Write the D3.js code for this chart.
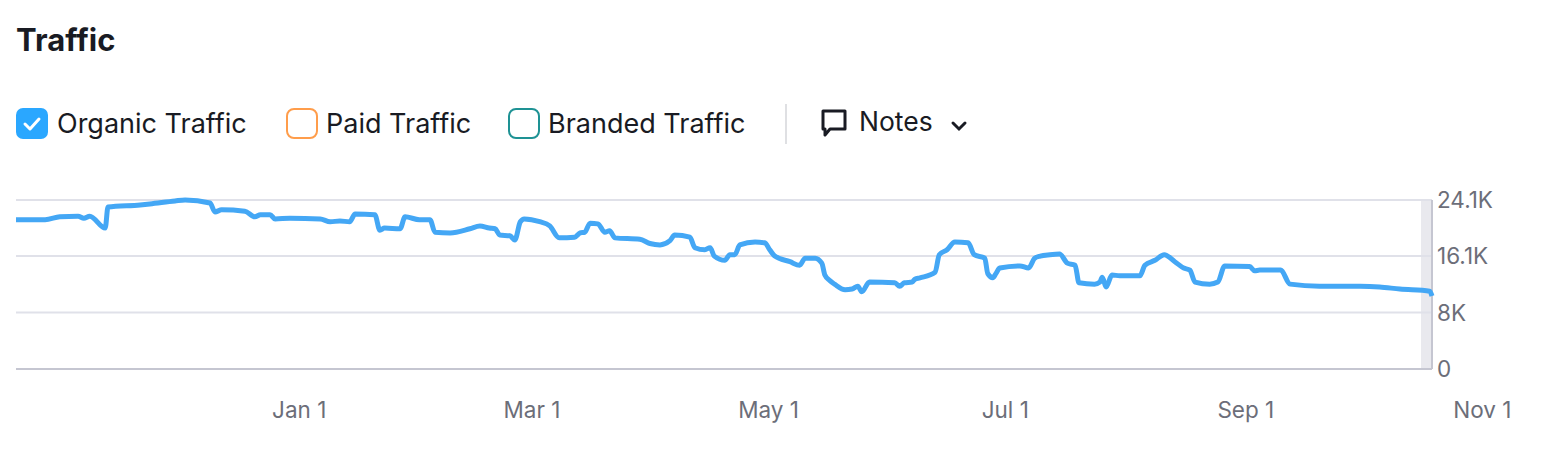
<!DOCTYPE html>
<html><head><meta charset="utf-8">
<script src="https://cdn.jsdelivr.net/npm/d3@7"></script>
<style>body{margin:0;background:#fff;font-family:Inter,"Open Sans",sans-serif;}</style>
</head><body><svg id="c" width="1562" height="468"></svg>
<script>
const startDate = "2023-10-20";
const dayOffsets = [0,7.5,11.3,16,17.5,19,23,23.7,32,34.5,41,43.6,50,51.3,53,59,61.6,63,65.5,66.8,70.6,78.4,81,83.5,86,87.4,92.5,93.8,95,99,100.3,104,106.7,108,111.9,117,119.6,122,123.5,124.7,127.3,128.6,130,131,135,137.6,140,144,145.4,146.6,148,150,151.8,153,154.4,160.8,163.4,166,168.6,169.8,173.7,175,177.6,178.9,180,182.7,184,185.3,186.6,190.5,193,194.3,195.6,199.5,202,203.4,206,207.7,208.5,209.8,211,213.7,215.5,217,218,220,226.5,227.8,229,231,231.7,233,236.9,238,240,242,245.4,247,249.7,250.5,251.8,252.6,253.6,258.8,261,262.6,264,266.5,269,271,273,274,278,279.4,280,281,282.5,284.5,289.7,291,293.6,296,298.7,301,302.6,303.9,307.7,309.8,311.6,318,319.3,320.6,326,328.4,336,346.4,351.5,356.7,364.4,365];
const organicK = [21.3,21.3,21.7,21.8,21.5,21.8,20.1,23.1,23.4,23.54,23.97,24.1,23.68,22.4,22.7,22.5,21.7,22.0,22.0,21.4,21.5,21.4,21.0,21.1,21.0,22.1,22.0,19.8,20.1,20.0,21.7,21.3,21.3,19.5,19.4,20.0,20.4,20.1,20.0,19.1,19.0,18.4,21.0,21.4,21.0,20.4,18.7,18.8,19.4,19.5,20.8,20.7,19.5,19.7,18.7,18.5,17.9,17.7,18.3,19.1,18.8,17.3,17.0,17.3,16.1,15.5,16.3,16.3,17.7,18.1,18.0,17.0,16.1,15.3,14.8,15.8,15.8,15.1,13.4,12.6,12.1,11.3,11.4,11.8,11.0,12.4,12.3,11.8,12.3,12.4,12.8,13.0,13.8,16.3,17.0,18.1,18.0,16.3,15.8,13.6,13.0,13.6,14.4,14.7,14.4,15.8,16.1,16.3,16.4,15.1,14.8,12.3,12.1,12.4,13.1,11.7,13.4,13.3,13.3,14.8,15.5,16.3,15.3,14.4,14.1,12.4,12.1,12.4,14.7,14.6,14.0,14.1,14.1,12.1,11.8,11.8,11.7,11.4,11.1,10.4];
const yTicks = [0, 8050, 16100, 24100];
const yTickLabels = ["0","8K","16.1K","24.1K"];
const xTickDates = ["2024-01-01","2024-03-01","2024-05-01","2024-07-01","2024-09-01","2024-11-01"];
const xTickLabels = ["Jan 1","Mar 1","May 1","Jul 1","Sep 1","Nov 1"];
const legendItems = [{name:"Organic Traffic",color:"#2aa7ff",checked:true},{name:"Paid Traffic",color:"#ff9d4b",checked:false},{name:"Branded Traffic",color:"#1e9294",checked:false}];

const svg = d3.select("#c");
const p = d3.timeParse("%Y-%m-%d");
const s0 = p(startDate);
const data = dayOffsets.map((d,i)=>({date:d3.timeHour.offset(s0, Math.round(d*24)), v:organicK[i]*1000}));
const L=16, R=1432, T=200, B=369;
const x = d3.scaleTime().domain([s0, d3.timeDay.offset(s0,365)]).range([L,R]);
const y = d3.scaleLinear().domain([0,24100]).range([B,T]);

svg.append("text").attr("x",16).attr("y",51).attr("font-size",31).attr("font-weight",700).attr("fill","#191b23").text("Traffic");

const lx=[16,286,508], tx=[57,326,548];
legendItems.forEach((it,i)=>{
  const g=svg.append("g");
  g.append("rect").attr("x",lx[i]+(it.checked?0:1)).attr("y",108+(it.checked?0:1)).attr("width",it.checked?32:30).attr("height",it.checked?31:29).attr("rx",7)
   .attr("fill",it.checked?it.color:"#fff").attr("stroke",it.checked?"none":it.color).attr("stroke-width",2);
  if(it.checked) g.append("path").attr("d",`M${lx[i]+9},${124} l5,5 l9,-10`).attr("fill","none").attr("stroke","#fff").attr("stroke-width",3).attr("stroke-linecap","round").attr("stroke-linejoin","round");
  g.append("text").attr("x",tx[i]).attr("y",133).attr("font-size",27).attr("fill","#191b23").text(it.name);
});
svg.append("line").attr("x1",786).attr("x2",786).attr("y1",104).attr("y2",144).attr("stroke","#d5d6da").attr("stroke-width",1.5);
svg.append("path").attr("d","M823,111 h22 v18 h-15 l-5,6 v-6 h-2 z").attr("fill","none").attr("stroke","#191b23").attr("stroke-width",3).attr("stroke-linejoin","round");
svg.append("text").attr("x",859).attr("y",131).attr("font-size",26.5).attr("fill","#191b23").text("Notes");
svg.append("path").attr("d","M953,123 l6,6 l6,-6").attr("fill","none").attr("stroke","#191b23").attr("stroke-width",3).attr("stroke-linecap","round");

svg.append("rect").attr("x",1421).attr("y",T).attr("width",R-1421).attr("height",B-T).attr("fill","#e9e9ee");
yTicks.forEach((t,i)=>{
  svg.append("line").attr("x1",L).attr("x2",R).attr("y1",y(t)).attr("y2",y(t)).attr("stroke",i==0?"#c5c6d1":"#e0e1e9").attr("stroke-width",2);
  svg.append("text").attr("x",1437).attr("y",y(t)+8).attr("font-size",22.5).attr("fill","#6c6e79").text(yTickLabels[i]);
});
svg.append("line").attr("x1",R).attr("x2",R).attr("y1",T).attr("y2",B).attr("stroke","#c5c6d1").attr("stroke-width",2);
xTickDates.forEach((d,i)=>{
  svg.append("text").attr("x",x(p(d))).attr("y",418).attr("text-anchor","middle").attr("font-size",22.5).attr("fill","#6c6e79").text(xTickLabels[i]);
});
svg.append("path").datum(data).attr("fill","none").attr("stroke","#44a7f5").attr("stroke-width",5).attr("stroke-linejoin","round")
  .attr("d",d3.line().x(d=>x(d.date)).y(d=>y(d.v)).curve(d3.curveMonotoneX));
</script></body></html>
